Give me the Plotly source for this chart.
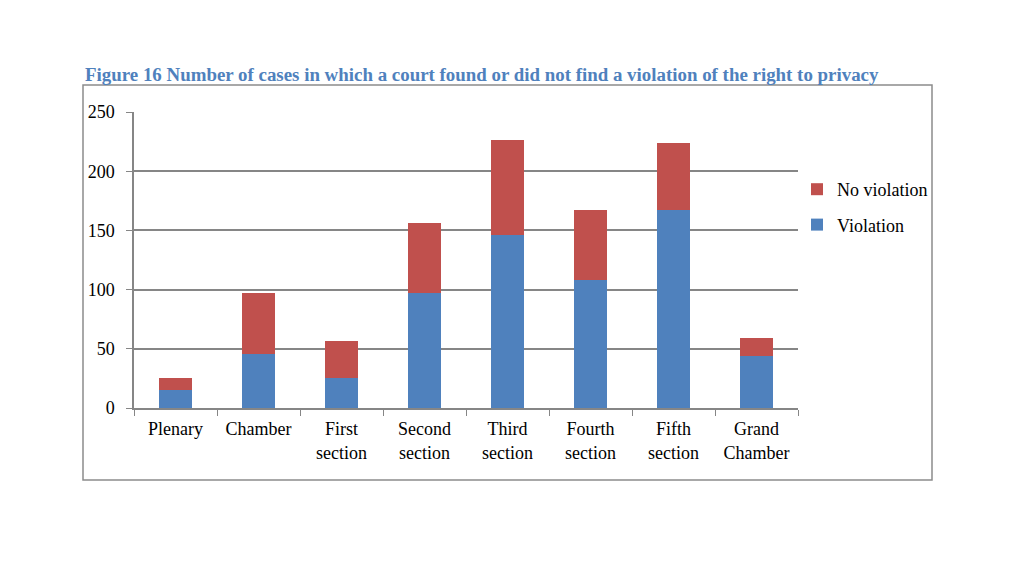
import plotly.graph_objects as go

categories = ["Plenary", "Chamber", "First<br>section", "Second<br>section", "Third<br>section",
              "Fourth<br>section", "Fifth<br>section", "Grand<br>Chamber"]
violation = [15, 46, 25, 97, 146, 108, 167, 44]
no_violation = [10, 51, 32, 59, 80, 59, 57, 15]

FONT = "Liberation Serif, Times New Roman, serif"
OFF = 8  # page body margin
W, H = 1000, 560
# plot area in page pixels
L, R, T, B = 134, 798, 112, 408
l, r, t, b = L - OFF, R - OFF, T - OFF, B - OFF
pw, ph = r - l, b - t

def px(x):
    return (x - L) / pw

def py(y):
    return (B - y) / ph

fig = go.Figure()
fig.add_trace(go.Bar(x=categories, y=violation, name="Violation", legendrank=2,
                     marker=dict(color="#4F81BD", line=dict(width=0)), legendgroup="a"))
fig.add_trace(go.Bar(x=categories, y=no_violation, name="No violation", legendrank=1,
                     marker=dict(color="#C0504D", line=dict(width=0)), legendgroup="b"))

fig.update_layout(
    width=W, height=H,
    barmode="stack", bargap=0.6,
    paper_bgcolor="white", plot_bgcolor="white",
    margin=dict(l=l, r=W - r, t=t, b=H - b, autoexpand=False),
    font=dict(family=FONT, size=18, color="#000000"),
    showlegend=True,
    legend=dict(x=px(797), y=py(171), xanchor="left", yanchor="top",
                traceorder="grouped", tracegroupgap=9,
                font=dict(family=FONT, size=18, color="#000"),
                itemwidth=30, bgcolor="rgba(0,0,0,0)"),
    xaxis=dict(type="category", tickson="boundaries", ticks="outside", ticklen=6,
               tickcolor="#868686", showline=True, linecolor="#868686", linewidth=1.5,
               showgrid=False, tickfont=dict(family=FONT, size=18),
               ticklabelstandoff=4),
    yaxis=dict(range=[0, 250], tickvals=[0, 50, 100, 150, 200, 250], ticks="outside",
               ticklen=6, tickcolor="#868686", showline=True, linecolor="#868686",
               linewidth=1.5, showgrid=True, gridcolor="#868686", gridwidth=1.5,
               zeroline=False, tickfont=dict(family=FONT, size=18),
               ticklabelstandoff=8),
    shapes=[dict(type="rect", xref="paper", yref="paper",
                 x0=px(83), x1=px(932), y0=py(480), y1=py(85),
                 line=dict(color="#8c8c8c", width=1.5), fillcolor="rgba(0,0,0,0)")],
    annotations=[dict(text="<b>Figure 16 Number of cases in which a court found or did not find a violation of the right to privacy</b>",
                      xref="paper", yref="paper", x=px(83), y=py(74),
                      xanchor="left", yanchor="middle", showarrow=False,
                      font=dict(family=FONT, size=18.9, color="#4F81BD"))],
)

fig.write_html("out.html")
